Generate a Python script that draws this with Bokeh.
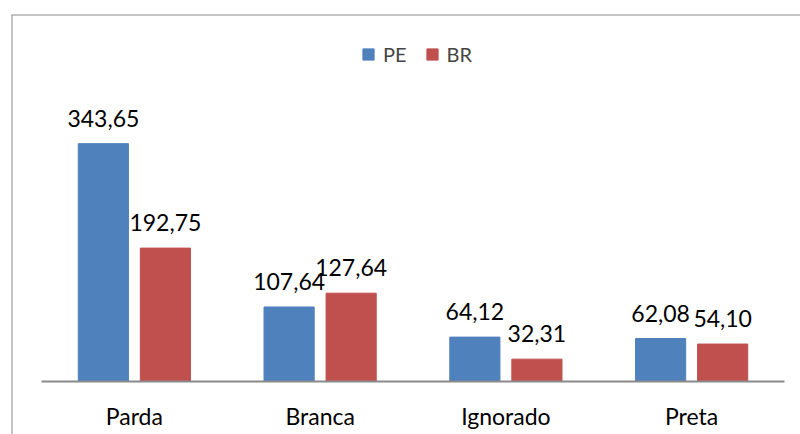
from bokeh.plotting import figure
from bokeh.models import Range1d, ColumnDataSource, LabelSet, Legend, LegendItem, Span
from bokeh.core.properties import value
from bokeh.embed import file_html
from bokeh.resources import INLINE

categories = ["Parda", "Branca", "Ignorado", "Preta"]
pe_values = [343.65, 107.64, 64.12, 62.08]
br_values = [192.75, 127.64, 32.31, 54.10]
series_names = ["PE", "BR"]

def fmt(v):
    return f"{v:.2f}".replace(".", ",")

OFF = 0.167   # dodge of each series inside a category (category units)
BAR_W = 0.27

centers = [i + 0.5 for i in range(len(categories))]
src = ColumnDataSource(data=dict(
    cat=categories,
    xc=centers,
    zero=[0] * len(categories),
    x_pe=[c - OFF for c in centers],
    x_br=[c + OFF for c in centers],
    pe=pe_values,
    br=br_values,
    pe_lbl=[fmt(v) for v in pe_values],
    br_lbl=[fmt(v) for v in br_values],
))

FONT = "Lato"
BLUE = "#4F81BD"
RED = "#C0504D"
GRAY = "#8A8A8A"

x_start, x_end = -0.1615, 4.086
y_start, y_end = -76.6, 530.3

p = figure(width=800, height=434, x_range=Range1d(x_start, x_end),
           y_range=Range1d(y_start, y_end), output_backend="svg", toolbar_location=None,
           x_axis_type=None, y_axis_type=None,
           min_border_left=11, min_border_right=0, min_border_top=14, min_border_bottom=0)
p.grid.visible = False
p.outline_line_color = None

# chart border (left and top, the rest lies outside the picture)
p.add_layout(Span(location=x_start, dimension="height", line_color=GRAY, line_width=2))
p.add_layout(Span(location=y_end, dimension="width", line_color=GRAY, line_width=2))

r1 = p.vbar(x="x_pe", top="pe", width=BAR_W, source=src, fill_color=BLUE, line_color=BLUE)
r2 = p.vbar(x="x_br", top="br", width=BAR_W, source=src, fill_color=RED, line_color=RED)

# category axis line
p.segment(x0=0, x1=len(categories), y0=0, y1=0, line_color=GRAY, line_width=2)

for xcol, col, lbl in (("x_pe", "pe", "pe_lbl"), ("x_br", "br", "br_lbl")):
    p.add_layout(LabelSet(x=xcol, y=col, text=lbl, source=src,
                          text_align="center", text_baseline="alphabetic", y_offset=17,
                          text_font=value(FONT), text_font_size=value("23px"),
                          text_color="#000000"))

p.add_layout(LabelSet(x="xc", y="zero", text="cat", source=src,
                      text_align="center", text_baseline="alphabetic", y_offset=-44,
                      text_font=value(FONT), text_font_size=value("23px"),
                      text_color="#000000"))

legend = Legend(items=[LegendItem(label=series_names[0], renderers=[r1]),
                       LegendItem(label=series_names[1], renderers=[r2])],
                location=(350, 368), orientation="horizontal",
                glyph_width=14, glyph_height=14, spacing=18, label_standoff=8,
                label_text_font=FONT, label_text_font_size="20px",
                background_fill_alpha=0, border_line_alpha=0, margin=0, padding=0)
p.add_layout(legend)

open("out.html", "w").write(file_html(p, INLINE))
